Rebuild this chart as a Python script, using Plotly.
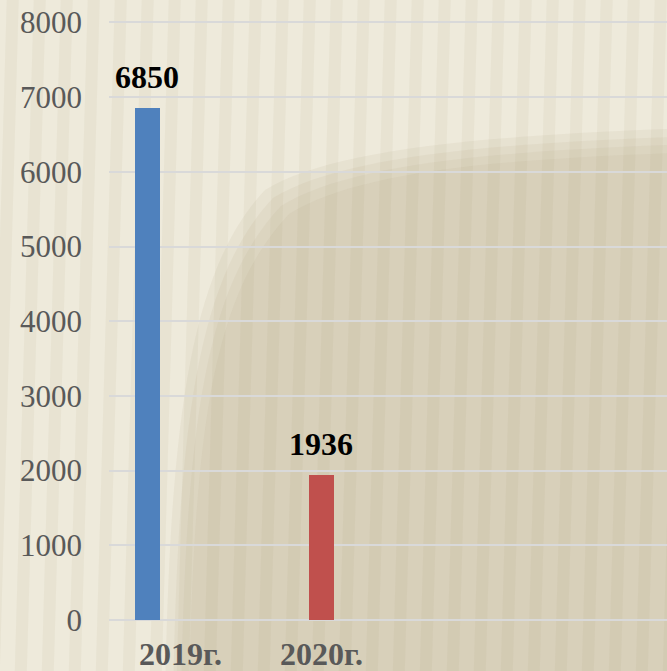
import plotly.graph_objects as go

# data
years = ["2019г.", "2020г."]
values = [6850, 1936]
bar_colors = ["#4f81bd", "#c0504d"]
y_ticks = [0, 1000, 2000, 3000, 4000, 5000, 6000, 7000, 8000]

W, H = 667, 671
ML, MT, MB = 109, 21, 51
SERIF = "Liberation Serif, Times New Roman, serif"

# pixel -> paper coordinates (plot area is x 109..667, y 21..620)
def px(x):
    return (x - ML) / (W - ML)


def py(y):
    return (H - MB - y) / (H - MB - MT)


fig = go.Figure()

fig.add_trace(go.Bar(
    x=years, y=values,
    marker=dict(color=bar_colors, line=dict(width=0)),
    width=0.144,
    showlegend=False,
))

# value labels above the bars
for cat, val in zip(years, values):
    fig.add_annotation(
        x=cat, y=val, text=f"<b>{val}</b>", showarrow=False,
        yanchor="bottom", yshift=11,
        font=dict(family=SERIF, size=32, color="#000000"),
    )

# category labels under the axis (partly cut by the bottom edge)
for cat, shift in zip(years, [33, 0]):
    fig.add_annotation(
        x=cat, y=0, text=f"<b>{cat}</b>", showarrow=False,
        yanchor="top", yshift=-14, xshift=shift,
        font=dict(family=SERIF, size=32, color="#595959"),
    )

# textured beige backdrop: soft darker area lower right + slanted stripes
shapes = []
for k in range(4):
    d = k * 8
    path = (f"M {px(165 + d):.4f} {py(700):.4f} "
            f"C {px(170 + d):.4f} {py(420):.4f}, {px(190 + d):.4f} {py(270 + d):.4f}, "
            f"{px(265 + d):.4f} {py(190 + d):.4f} "
            f"C {px(330 + d):.4f} {py(150 + d):.4f}, {px(480):.4f} {py(135 + d):.4f}, "
            f"{px(700):.4f} {py(128 + d):.4f} "
            f"L {px(700):.4f} {py(700):.4f} Z")
    shapes.append(dict(type="path", xref="paper", yref="paper", layer="below",
                       path=path, fillcolor="rgba(190,178,150,0.14)",
                       line=dict(width=0)))

for i in range(30):
    x0 = i * 27 - 20
    shapes.append(dict(
        type="path", xref="paper", yref="paper", layer="below",
        path=(f"M {px(x0):.4f} {py(-10):.4f} L {px(x0 + 12):.4f} {py(-10):.4f} "
              f"L {px(x0 - 8):.4f} {py(700):.4f} L {px(x0 - 20):.4f} {py(700):.4f} Z"),
        fillcolor="rgba(150,135,100,0.07)", line=dict(width=0),
    ))

fig.update_layout(
    width=W, height=H,
    margin=dict(l=ML, r=0, t=MT, b=MB),
    paper_bgcolor="#eeeadb",
    plot_bgcolor="rgba(0,0,0,0)",
    shapes=shapes,
    bargap=0,
)

fig.update_xaxes(
    type="category", range=[-0.221, 2.986],
    showticklabels=False, showgrid=False, zeroline=False,
    showline=False, ticks="",
)
# a little headroom above 8000 so its grid line is not dropped at the edge
fig.update_yaxes(
    range=[0, 8020], tickvals=y_ticks,
    showgrid=True, gridcolor="#d9d9d9", gridwidth=2,
    zeroline=True, zerolinecolor="#d9d9d9", zerolinewidth=2,
    showline=False, ticks="", ticklabelstandoff=26,
    tickfont=dict(family=SERIF, size=31, color="#595959"),
)

# drop the default page margin so the figure sits at the window's corner
fig.write_html("out.html", config={"displayModeBar": False},
               post_script="document.body.style.margin = '0';")
